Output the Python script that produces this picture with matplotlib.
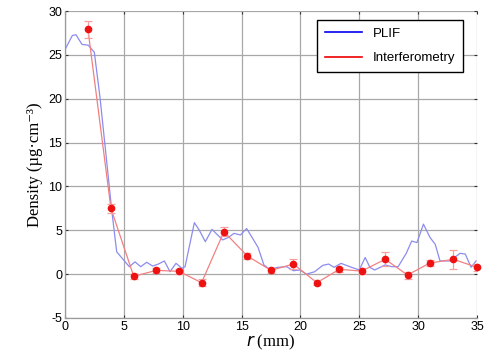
import matplotlib
matplotlib.use("Agg")
import matplotlib.pyplot as plt
from matplotlib.lines import Line2D

plt.rcParams['axes.unicode_minus'] = False

# PLIF (blue line)
plif_r = [0.0, 0.62, 0.93, 1.44, 1.98, 2.49, 2.97, 3.97, 4.39, 5.46, 5.95, 6.43, 6.94,
          7.45, 7.93, 8.44, 8.92, 9.43, 9.94, 10.2, 10.99, 11.4, 11.92, 12.49, 12.97,
          13.4, 13.9, 14.36, 14.9, 15.43, 15.94, 16.4, 16.9, 17.4, 18.1, 18.83, 19.4,
          19.97, 20.5, 21.2, 21.9, 22.4, 22.85, 23.45, 24.2, 25.0, 25.5, 25.9, 26.3,
          27.2, 27.75, 28.3, 29.0, 29.45, 29.9, 30.45, 31.0, 31.45, 31.86, 32.7, 33.56,
          34.0, 34.5, 34.92]
plif_d = [25.6, 27.2, 27.3, 26.2, 26.1, 25.3, 20.2, 7.3, 2.55, 0.85, 1.4, 0.85, 1.35,
          0.92, 1.15, 1.5, 0.28, 1.23, 0.66, 0.85, 5.87, 5.03, 3.7, 5.1, 4.46,
          3.9, 4.2, 4.65, 4.46, 5.2, 4.08, 3.05, 1.04, 0.55, 0.78, 0.85, 0.39,
          0.47, 0.0, 0.27, 1.0, 1.15, 0.78, 1.23, 0.85, 0.47, 1.9, 0.78, 0.47,
          1.05, 0.85, 0.85, 2.4, 3.77, 3.6, 5.7, 4.2, 3.4, 1.5, 1.5, 2.37,
          2.3, 0.78, 1.5]

# Interferometry (red points with error bars)
int_r = [1.95, 3.9, 5.84, 7.76, 9.69, 11.6, 13.5, 15.5, 17.5, 19.4, 21.4, 23.3,
         25.2, 27.2, 29.1, 31.0, 33.0, 35.0]
int_d = [27.9, 7.5, -0.25, 0.43, 0.32, -0.98, 4.84, 2.06, 0.43, 1.15, -0.98, 0.55,
         0.35, 1.69, -0.1, 1.27, 1.69, 0.78]
int_err = [0.95, 0.5, 0.3, 0.3, 0.3, 0.4, 0.5, 0.3, 0.3, 0.6, 0.3, 0.3,
           0.3, 0.8, 0.4, 0.3, 1.1, 0.4]

xticks = [0, 5, 10, 15, 20, 25, 30, 35]
yticks = [-5, 0, 5, 10, 15, 20, 25, 30]

fig = plt.figure(figsize=(5, 3.6), dpi=100)
ax = fig.add_axes([0.13, 0.1167, 0.824, 0.8527])

ax.plot(plif_r, plif_d, color='#8c8cf0', lw=0.9, zorder=3)
ax.plot(int_r, int_d, color='#f28080', lw=0.9, zorder=3)
ax.errorbar(int_r, int_d, yerr=int_err, fmt='none', ecolor='#f5a0a0', elinewidth=0.9,
            capsize=3, capthick=0.9, zorder=3)
ax.plot(int_r, int_d, 'o', color='#ee1111', ms=4.5, mec='#ee1111', zorder=4, clip_on=False)

ax.set_xlim(0, 35)
ax.set_ylim(-5, 30)
ax.set_xticks(xticks)
ax.set_yticks(yticks)
ax.grid(True, color='#a8a8a8', lw=0.9)
ax.set_axisbelow(True)

for s in ['top', 'right']:
    ax.spines[s].set_visible(False)
for s in ['left', 'bottom']:
    ax.spines[s].set_color('#9a9a9a')
    ax.spines[s].set_linewidth(0.9)

ax.tick_params(direction='in', length=2.5, width=0.8, color='#333333', top=True, right=True,
               labelsize=9, pad=2)
for lab in ax.get_xticklabels() + ax.get_yticklabels():
    lab.set_family('Liberation Sans')

plt.rcParams['mathtext.fontset'] = 'custom'
plt.rcParams['mathtext.it'] = 'Liberation Serif:italic'
plt.rcParams['mathtext.rm'] = 'Liberation Serif'
ax.set_xlabel(r'$r$ (mm)', family='Liberation Serif', fontsize=12, labelpad=0)
ax.set_ylabel('Density (\u00b5g\u00b7cm\u207b\u00b3)', family=['Liberation Serif', 'DejaVu Serif'],
              fontsize=12, labelpad=4)

handles = [Line2D([], [], color='#0000ee', lw=1.2), Line2D([], [], color='#ee0000', lw=1.2)]
leg = ax.legend(handles, ['PLIF', 'Interferometry'], loc='upper right',
                bbox_to_anchor=(0.966, 0.971), borderaxespad=0, fancybox=False, edgecolor='black',
                framealpha=1, prop={'family': 'Liberation Sans', 'size': 9.5},
                handlelength=2.8, borderpad=0.6, labelspacing=0.9)
leg.get_frame().set_linewidth(1.0)

fig.savefig('out.png', dpi=100)
